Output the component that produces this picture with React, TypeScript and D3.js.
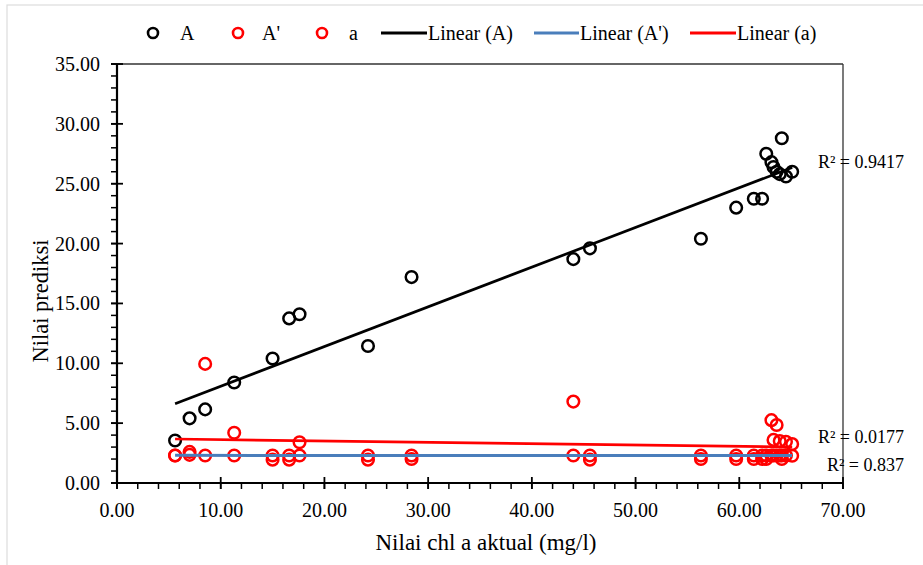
import React from "react";
import * as d3 from "d3";

const xActual = [5.6, 7.0, 8.5, 11.3, 15.0, 16.6, 17.6, 24.2, 28.4, 44.0, 45.6, 56.3, 59.7, 61.4, 62.2, 62.6, 63.1, 63.3, 63.6, 63.9, 64.1, 64.5, 65.1];
const seriesA = [3.55, 5.4, 6.15, 8.4, 10.4, 13.75, 14.1, 11.45, 17.2, 18.7, 19.6, 20.4, 23.0, 23.75, 23.75, 27.5, 26.8, 26.4, 26.0, 25.8, 28.8, 25.6, 26.0];
const seriesAp = [2.3, 2.35, 2.3, 2.3, 2.3, 2.3, 2.3, 2.3, 2.3, 2.3, 2.3, 2.3, 2.3, 2.3, 2.3, 2.3, 2.3, 2.3, 2.3, 2.3, 2.3, 2.3, 2.28];
const seriesa = [2.3, 2.6, 9.95, 4.2, 1.95, 1.95, 3.4, 1.95, 2.0, 6.8, 1.95, 2.0, 2.0, 2.0, 2.0, 2.0, 5.25, 3.6, 4.85, 3.5, 2.0, 3.45, 3.25];

const xTicks = [0, 10, 20, 30, 40, 50, 60, 70];
const yTicks = [0, 5, 10, 15, 20, 25, 30, 35];
const r2Labels = ["R² = 0.9417", "R² = 0.0177", "R² = 0.837"];
const legendLabels = ["A", "A'", "a", "Linear (A)", "Linear (A')", "Linear (a)"];

const FONT = "Liberation Serif";
const BLACK = "#000000";
const RED = "#ff0000";
const BLUE = "#4a7ebb";

function fit(xs: number[], ys: number[]) {
  const n = xs.length;
  const mx = d3.mean(xs)!;
  const my = d3.mean(ys)!;
  let sxy = 0, sxx = 0;
  for (let i = 0; i < n; i++) {
    sxy += (xs[i] - mx) * (ys[i] - my);
    sxx += (xs[i] - mx) ** 2;
  }
  const b = sxy / sxx;
  const a = my - b * mx;
  return (x: number) => a + b * x;
}

export default function App() {
  const W = 923, H = 565;
  const left = 117, right = 843, top = 64, bottom = 483;
  const x = d3.scaleLinear().domain([0, 70]).range([left, right]);
  const y = d3.scaleLinear().domain([0, 35]).range([bottom, top]);

  const xMinor = d3.range(0, 70.001, 2);
  const yMinor = d3.range(0, 35.001, 1);

  const [x0, x1] = d3.extent(xActual) as [number, number];
  const fits = [
    { f: fit(xActual, seriesA), color: BLACK },
    { f: fit(xActual, seriesAp), color: BLUE },
    { f: fit(xActual, seriesa), color: RED },
  ];
  const line = d3.line<[number, number]>().x((d) => x(d[0])).y((d) => y(d[1]));

  const scatter = [
    { data: seriesA, color: BLACK },
    { data: seriesAp, color: RED },
    { data: seriesa, color: RED },
  ];

  const legendY = 33;
  const legendMarkers = [
    { cx: 153, tx: 180, color: BLACK, label: legendLabels[0] },
    { cx: 238, tx: 262, color: RED, label: legendLabels[1] },
    { cx: 322, tx: 349, color: RED, label: legendLabels[2] },
  ];
  const legendLines = [
    { x1: 381, x2: 427, color: BLACK, label: legendLabels[3] },
    { x1: 534, x2: 579, color: BLUE, label: legendLabels[4] },
    { x1: 690, x2: 736, color: RED, label: legendLabels[5] },
  ];

  const txt = { fontFamily: FONT };

  return (
    <div style={{ position: "absolute", left: 0, top: 0 }}>
      <svg width={W} height={H} style={{ display: "block", background: "#fff", fontFamily: FONT }}>
        <rect x={7} y={5} width={1000} height={1000} fill="none" stroke="#dcdcdc" strokeWidth={1.2} />

        {/* legend */}
        {legendMarkers.map((m, i) => (
          <g key={"lm" + i}>
            <circle cx={m.cx} cy={legendY} r={5} fill="none" stroke={m.color} strokeWidth={2.6} />
            <text x={m.tx} y={legendY + 7} fontSize={20} fill="#000" style={txt}>{m.label}</text>
          </g>
        ))}
        {legendLines.map((l, i) => (
          <g key={"ll" + i}>
            <line x1={l.x1} x2={l.x2} y1={legendY} y2={legendY} stroke={l.color} strokeWidth={3} />
            <text x={l.x2 + 1} y={legendY + 7} fontSize={20} fill="#000" style={txt}>{l.label}</text>
          </g>
        ))}

        {/* frame top/right */}
        <line x1={left} x2={right} y1={top} y2={top} stroke="#333" strokeWidth={1.3} />
        <line x1={right} x2={right} y1={top} y2={bottom} stroke="#333" strokeWidth={1.3} />

        {/* markers */}
        {scatter.map((s, si) =>
          s.data.map((v, i) => (
            <circle key={si + "-" + i} cx={x(xActual[i])} cy={y(v)} r={5.8} fill="none" stroke={s.color} strokeWidth={2.5} />
          ))
        )}

        {/* trendlines */}
        {fits.map((t, i) => (
          <path key={"t" + i} d={line([[x0, t.f(x0)], [x1, t.f(x1)]])!} fill="none" stroke={t.color} strokeWidth={i === 1 ? 3 : 2.7} />
        ))}

        {/* y axis */}
        <line x1={left} x2={left} y1={top} y2={bottom} stroke="#000" strokeWidth={2.2} />
        {yMinor.map((v) => (
          <line key={"ym" + v} x1={left - 6} x2={left} y1={y(v)} y2={y(v)} stroke="#000" strokeWidth={1.5} />
        ))}
        {yTicks.map((v) => (
          <g key={"yt" + v}>
            <line x1={left - 6} x2={left + 6} y1={y(v)} y2={y(v)} stroke="#000" strokeWidth={1.8} />
            <text x={100} y={y(v) + 7} fontSize={20} textAnchor="end" fill="#000" style={txt}>{v.toFixed(2)}</text>
          </g>
        ))}

        {/* x axis */}
        <line x1={left} x2={right} y1={bottom} y2={bottom} stroke="#000" strokeWidth={2.2} />
        {xMinor.map((v) => (
          <line key={"xm" + v} x1={x(v)} x2={x(v)} y1={bottom} y2={bottom + 6} stroke="#000" strokeWidth={1.5} />
        ))}
        {xTicks.map((v) => (
          <g key={"xt" + v}>
            <line x1={x(v)} x2={x(v)} y1={bottom - 6} y2={bottom + 6} stroke="#000" strokeWidth={1.8} />
            <text x={x(v)} y={517} fontSize={20} textAnchor="middle" fill="#000" style={txt}>{v.toFixed(2)}</text>
          </g>
        ))}

        {/* titles */}
        <text x={(left + right) / 2 + 6} y={550} fontSize={23} textAnchor="middle" fill="#000" style={txt}>Nilai chl a aktual (mg/l)</text>
        <text transform={`translate(48,301) rotate(-90)`} fontSize={22.5} textAnchor="middle" fill="#000" style={txt}>Nilai prediksi</text>

        {/* R² labels */}
        <text x={904} y={168} fontSize={18} textAnchor="end" fill="#000" style={txt}>{r2Labels[0]}</text>
        <text x={904} y={443} fontSize={18} textAnchor="end" fill="#000" style={txt}>{r2Labels[1]}</text>
        <text x={904} y={471} fontSize={18} textAnchor="end" fill="#000" style={txt}>{r2Labels[2]}</text>
      </svg>
    </div>
  );
}
